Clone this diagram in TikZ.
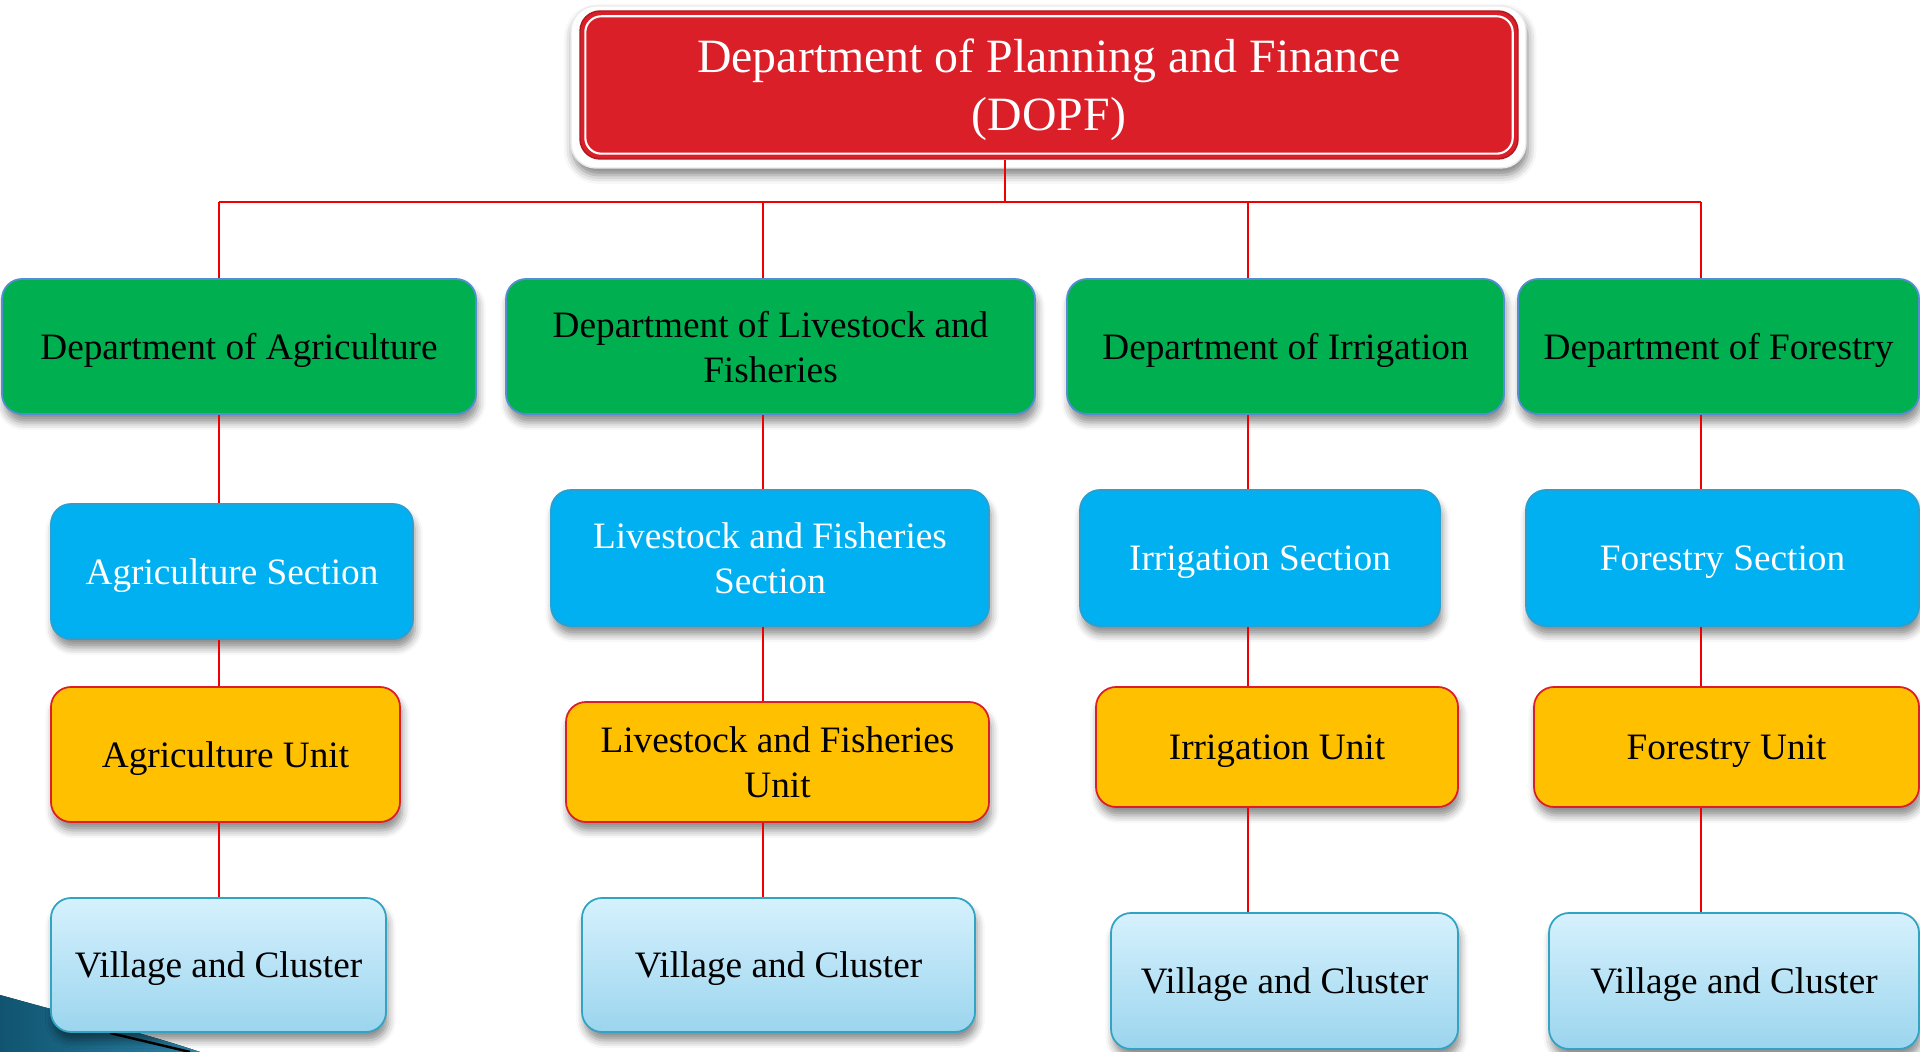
\documentclass[tikz,border=0pt]{standalone}
\usepackage{fontspec}
\setmainfont{Liberation Serif}
\usetikzlibrary{positioning, calc, shadows, shadows.blur}
\definecolor{DopfRed}{RGB}{218, 31, 40}
\definecolor{DeptGreen}{RGB}{0, 176, 80}
\definecolor{DeptEdge}{RGB}{84, 141, 212}
\definecolor{SectBlue}{RGB}{0, 176, 240}
\definecolor{SectEdge}{RGB}{40, 160, 210}
\definecolor{UnitGold}{RGB}{255, 192, 0}
\definecolor{UnitEdge}{RGB}{220, 30, 40}
\definecolor{VillTop}{RGB}{214, 241, 253}
\definecolor{VillBottom}{RGB}{155, 213, 238}
\definecolor{VillEdge}{RGB}{49, 163, 195}
\definecolor{LinkRed}{RGB}{240, 0, 0}
\definecolor{SwooshDark}{RGB}{16, 84, 112}
\definecolor{SwooshLight}{RGB}{42, 130, 165}

\begin{document}
\begin{tikzpicture}[
    box/.style={rounded corners=0.2cm, inner sep=0pt, align=center, line width=0.5pt,
                font=\fontsize{10.6}{12.8}\selectfont, text depth=-2.4pt,
                blur shadow={shadow xshift=0.6pt, shadow yshift=-2.4pt, shadow blur radius=2.2pt, shadow opacity=45}},
    deptbox/.style={box, fill=DeptGreen, draw=DeptEdge, text=black},
    sectbox/.style={box, fill=SectBlue, draw=SectEdge, text=white},
    unitbox/.style={box, fill=UnitGold, draw=UnitEdge, text=black},
    villbox/.style={box, top color=VillTop, bottom color=VillBottom, draw=VillEdge, text=black},
    link/.style={draw=LinkRed, line width=0.45pt}
]
    \useasboundingbox (0,0) rectangle (19.2,-10.52);

    % corner swoosh
    \fill[left color=SwooshDark, right color=SwooshLight] (0,-9.95) .. controls (0.9,-10.2) and (1.5,-10.35) .. (2.0,-10.52) -- (0,-10.52) -- cycle;
    \draw[black, line width=0.7pt] (1.1,-10.33) .. controls (1.5,-10.42) .. (1.9,-10.52);

    % head office
    \node[fill=white, draw=black!8, rounded corners=0.25cm, minimum width=9.55cm, minimum height=1.62cm,
          blur shadow={shadow xshift=0.5pt, shadow yshift=-2pt, shadow blur radius=2.5pt, shadow opacity=50}] (frame) at (10.485,-0.87) {};
    \node[fill=DopfRed, draw=DopfRed!80!black, rounded corners=0.2cm, minimum width=9.38cm, minimum height=1.48cm,
          text=white, align=center, inner sep=0pt, text depth=0pt, font=\fontsize{13.6}{16.6}\selectfont] (dopf) at (10.49,-0.85)
          {Department of Planning and Finance\\(DOPF)};
    \draw[white, line width=0.6pt, rounded corners=0.16cm] ([shift={(0.06,-0.06)}]dopf.north west) rectangle ([shift={(-0.06,0.06)}]dopf.south east);

    \coordinate (bus) at (10.05,-2.02);
    \coordinate (c1) at (2.19,-2.02);
    \coordinate (c2) at (7.63,-2.02);
    \coordinate (c3) at (12.48,-2.02);
    \coordinate (c4) at (17.01,-2.02);

    % departments
    \node[deptbox, minimum width=4.74cm, minimum height=1.35cm] (agrdept) at (2.39,-3.465) {Department of Agriculture};
    \node[deptbox, minimum width=5.29cm, minimum height=1.35cm] (livdept) at (7.705,-3.465) {Department of Livestock and\\Fisheries};
    \node[deptbox, minimum width=4.37cm, minimum height=1.35cm] (irrdept) at (12.855,-3.465) {Department of Irrigation};
    \node[deptbox, minimum width=4.01cm, minimum height=1.35cm] (fordept) at (17.185,-3.465) {Department of Forestry};

    % sections
    \node[sectbox, minimum width=3.62cm, minimum height=1.35cm] (agrsect) at (2.32,-5.715) {Agriculture Section};
    \node[sectbox, minimum width=4.38cm, minimum height=1.36cm] (livsect) at (7.70,-5.58) {Livestock and Fisheries\\Section};
    \node[sectbox, minimum width=3.60cm, minimum height=1.36cm] (irrsect) at (12.60,-5.58) {Irrigation Section};
    \node[sectbox, minimum width=3.93cm, minimum height=1.36cm] (forsect) at (17.225,-5.58) {Forestry Section};

    % units
    \node[unitbox, minimum width=3.49cm, minimum height=1.35cm] (agrunit) at (2.255,-7.545) {Agriculture Unit};
    \node[unitbox, minimum width=4.23cm, minimum height=1.20cm] (livunit) at (7.775,-7.62) {Livestock and Fisheries\\Unit};
    \node[unitbox, minimum width=3.62cm, minimum height=1.20cm] (irrunit) at (12.77,-7.47) {Irrigation Unit};
    \node[unitbox, minimum width=3.85cm, minimum height=1.20cm] (forunit) at (17.265,-7.47) {Forestry Unit};

    % villages
    \node[villbox, minimum width=3.35cm, minimum height=1.34cm] (agrvill) at (2.185,-9.65) {Village and Cluster};
    \node[villbox, minimum width=3.93cm, minimum height=1.34cm] (livvill) at (7.785,-9.65) {Village and Cluster};
    \node[villbox, minimum width=3.47cm, minimum height=1.36cm] (irrvill) at (12.845,-9.81) {Village and Cluster};
    \node[villbox, minimum width=3.70cm, minimum height=1.36cm] (forvill) at (17.34,-9.81) {Village and Cluster};

    % links
    \draw[link] (dopf.south -| bus) -- (bus);
    \draw[link] (c1) -- (c4);
    \draw[link] (c1) -- (agrdept.north -| c1);
    \draw[link] (c2) -- (livdept.north -| c2);
    \draw[link] (c3) -- (irrdept.north -| c3);
    \draw[link] (c4) -- (fordept.north -| c4);

    \draw[link] (agrdept.south -| c1) -- (agrsect.north -| c1);
    \draw[link] (agrsect.south -| c1) -- (agrunit.north -| c1);
    \draw[link] (agrunit.south -| c1) -- (agrvill.north -| c1);

    \draw[link] (livdept.south -| c2) -- (livsect.north -| c2);
    \draw[link] (livsect.south -| c2) -- (livunit.north -| c2);
    \draw[link] (livunit.south -| c2) -- (livvill.north -| c2);

    \draw[link] (irrdept.south -| c3) -- (irrsect.north -| c3);
    \draw[link] (irrsect.south -| c3) -- (irrunit.north -| c3);
    \draw[link] (irrunit.south -| c3) -- (irrvill.north -| c3);

    \draw[link] (fordept.south -| c4) -- (forsect.north -| c4);
    \draw[link] (forsect.south -| c4) -- (forunit.north -| c4);
    \draw[link] (forunit.south -| c4) -- (forvill.north -| c4);
\end{tikzpicture}
\end{document}
